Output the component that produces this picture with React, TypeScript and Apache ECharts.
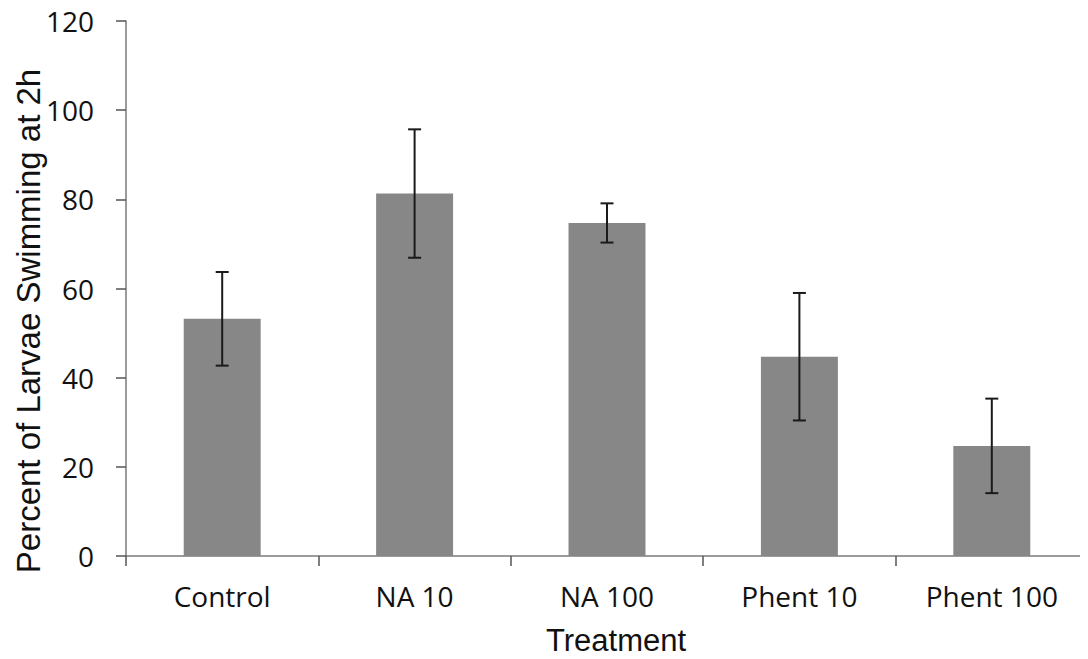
import React, { useEffect, useRef } from "react";
import * as echarts from "echarts";

const categories = ["Control", "NA 10", "NA 100", "Phent 10", "Phent 100"];
const means = [53.2, 81.3, 74.7, 44.7, 24.7];
const errors = [10.5, 14.4, 4.4, 14.3, 10.6];
const yTicks = [0, 20, 40, 60, 80, 100, 120];

export default function App() {
  const ref = useRef<HTMLDivElement>(null);
  useEffect(() => {
    if (!ref.current) return;
    const chart = echarts.init(ref.current, null, { renderer: "svg" });
    const errData = categories.map((_, i) => [i, means[i] - errors[i], means[i] + errors[i]]);
    chart.setOption({
      animation: false,
      backgroundColor: "#ffffff",
      grid: { left: 126, right: -5, top: 21, bottom: 103, containLabel: false },
      xAxis: {
        type: "category",
        data: categories,
        axisLine: { lineStyle: { color: "#7a7a7a", width: 1.5 } },
        axisTick: { show: true, alignWithLabel: false, length: 10, lineStyle: { color: "#555", width: 1.5 } },
        axisLabel: { margin: 26, fontSize: 28, color: "#111", fontFamily: "Open Sans" },
      },
      yAxis: {
        type: "value",
        min: yTicks[0],
        max: yTicks[yTicks.length - 1],
        interval: 20,
        splitLine: { show: false },
        axisLine: { show: true, lineStyle: { color: "#7a7a7a", width: 1.5 } },
        axisTick: { show: true, length: 10, lineStyle: { color: "#555", width: 1.5 } },
        axisLabel: { margin: 32, fontSize: 28, color: "#111", fontFamily: "Open Sans" },
      },
      graphic: [
        {
          type: "text",
          x: 28,
          y: 321,
          rotation: Math.PI / 2,
          style: {
            text: "Percent of Larvae Swimming at 2h",
            fontFamily: "Liberation Sans",
            fontSize: 33,
            fill: "#111",
            align: "center",
            verticalAlign: "middle",
          },
        },
        {
          type: "text",
          x: 616,
          y: 640,
          style: {
            text: "Treatment",
            fontFamily: "Liberation Sans",
            fontSize: 31,
            fill: "#111",
            align: "center",
            verticalAlign: "middle",
          },
        },
      ],
      series: [
        {
          type: "bar",
          data: means,
          barWidth: "40%",
          itemStyle: { color: "#878787" },
        },
        {
          type: "custom",
          data: errData,
          z: 10,
          renderItem: (params: any, api: any) => {
            const x = api.value(0);
            const lo = api.coord([x, api.value(1)]);
            const hi = api.coord([x, api.value(2)]);
            const cx = lo[0];
            const hw = 6.5;
            const style = { stroke: "#1a1a1a", lineWidth: 2 };
            return {
              type: "group",
              children: [
                { type: "line", shape: { x1: cx, y1: lo[1], x2: cx, y2: hi[1] }, style },
                { type: "line", shape: { x1: cx - hw, y1: lo[1], x2: cx + hw, y2: lo[1] }, style },
                { type: "line", shape: { x1: cx - hw, y1: hi[1], x2: cx + hw, y2: hi[1] }, style },
              ],
            };
          },
        },
      ],
    });
    return () => chart.dispose();
  }, []);
  return <div ref={ref} style={{ width: 1088, height: 659, margin: -8 }} />;
}
